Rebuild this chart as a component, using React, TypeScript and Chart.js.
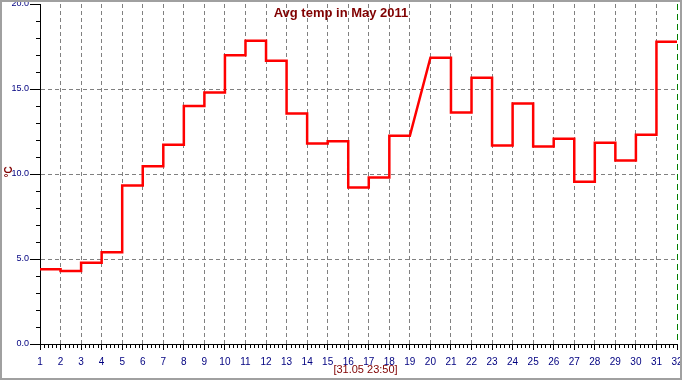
import React, { useEffect, useRef } from 'react';
import { Chart, registerables } from 'chart.js';

Chart.register(...registerables);

const TITLE = 'Avg temp in May 2011';
const Y_TITLE = '°C';
const FOOTER = '[31.05 23:50]';

const days = [1, 2, 3, 4, 5, 6, 7, 8, 9, 10, 11, 12, 13, 14, 15, 16, 17, 18, 19, 20, 21, 22, 23, 24, 25, 26, 27, 28, 29, 30, 31];
const temps: (number | null)[] = [
  4.39, 4.29, 4.78, 5.39, 9.33, 10.45, 11.72, 14.0, 14.8, 16.98,
  17.84, 16.66, 13.56, 11.8, 11.92, 9.21, 9.8, 12.25, null, 16.84,
  13.62, 15.66, 11.68, 14.14, 11.62, 12.08, 9.55, 11.84, 10.8, 12.31,
  17.78,
];
const xRange = [1, 32];
const yRange = [0, 20];
const yMajorStep = 5;
const yMinorStep = 1;
const xMinorPerDay = 5;

const FONT = '"Liberation Sans", Arial, sans-serif';
const NAVY = '#000080';
const MAROON = '#800000';
const GRID = '#808080';

export default function App() {
  const ref = useRef<HTMLCanvasElement | null>(null);

  useEffect(() => {
    if (!ref.current) return;
    const points: { x: number; y: number }[] = [];
    days.forEach((d, i) => {
      const v = temps[i];
      if (v == null) return;
      points.push({ x: d, y: v }, { x: d + 1, y: v });
    });

    const decor = {
      id: 'decor',
      afterDraw(chart: any) {
        const { ctx, chartArea: a, scales } = chart;
        const x = scales.x;
        const y = scales.y;
        ctx.save();
        ctx.strokeStyle = '#000';
        ctx.lineWidth = 1;
        ctx.setLineDash([]);
        ctx.beginPath();
        for (let v = yRange[0]; v <= yRange[1]; v += yMinorStep) {
          if (v % yMajorStep === 0) continue;
          const py = Math.round(y.getPixelForValue(v)) + 0.5;
          ctx.moveTo(a.left - 4, py);
          ctx.lineTo(a.left, py);
        }
        for (const d of days) {
          for (let k = 1; k < xMinorPerDay; k++) {
            const px = Math.round(x.getPixelForValue(d + k / xMinorPerDay)) + 0.5;
            ctx.moveTo(px, a.bottom);
            ctx.lineTo(px, a.bottom + 4);
          }
        }
        ctx.stroke();

        // title
        ctx.fillStyle = MAROON;
        ctx.font = `bold 13px ${FONT}`;
        ctx.textAlign = 'center';
        ctx.textBaseline = 'alphabetic';
        ctx.fillText(TITLE, 341, 17);

        // footer
        ctx.font = `11px ${FONT}`;
        ctx.textBaseline = 'middle';
        ctx.fillText(FOOTER, 365.5, 369.5);

        // y title
        ctx.save();
        ctx.translate(9, 172);
        ctx.rotate(-Math.PI / 2);
        ctx.font = `bold 10px ${FONT}`;
        ctx.textAlign = 'center';
        ctx.textBaseline = 'middle';
        ctx.fillText(Y_TITLE, 0, 0);
        ctx.restore();

        // frame
        ctx.fillStyle = '#a0a0a0';
        const W = chart.width;
        const H = chart.height;
        ctx.fillRect(0, 0, W, 2);
        ctx.fillRect(0, 0, 2, H);
        ctx.fillRect(W - 2, 0, 2, H);
        ctx.fillRect(0, H - 2, W, 2);
        ctx.restore();
      },
    };

    const chart = new Chart(ref.current, {
      type: 'line',
      data: {
        datasets: [
          {
            data: points,
            borderColor: '#ff0000',
            borderWidth: 2.5,
            pointRadius: 0,
            tension: 0,
            fill: false,
          },
        ],
      },
      options: {
        animation: false,
        responsive: false,
        devicePixelRatio: 1,
        layout: { padding: { left: 0, top: 4, right: 5, bottom: 0 } },
        plugins: { legend: { display: false }, tooltip: { enabled: false }, title: { display: false } },
        scales: {
          x: {
            type: 'linear',
            min: xRange[0],
            max: xRange[1],
            afterFit: (s: any) => {
              s.height = 36;
              s.paddingLeft = 0;
              s.paddingRight = 0;
            },
            ticks: {
              stepSize: 1,
              autoSkip: false,
              maxRotation: 0,
              color: NAVY,
              padding: 7,
              font: { family: FONT, size: 10, lineHeight: 1 },
            },
            grid: {
              color: (c: any) => {
                const v = c.tick && c.tick.value;
                if (v === xRange[0]) return 'rgba(0,0,0,0)';
                if (v === xRange[1]) return '#008000';
                return GRID;
              },
              tickColor: '#000',
              tickLength: 6,
              lineWidth: 1,
            },
            border: {
              color: '#000',
              width: 1,
              dash: (c: any) => (c.tick && c.tick.value === xRange[1] ? [6, 4] : [4, 3]),
            },
          },
          y: {
            type: 'linear',
            min: yRange[0],
            max: yRange[1],
            afterFit: (s: any) => {
              s.width = 40;
              s.paddingTop = 0;
              s.paddingBottom = 0;
            },
            ticks: {
              stepSize: yMajorStep,
              color: NAVY,
              padding: 1,
              font: { family: FONT, size: 9, lineHeight: 1 },
              callback: (v: any) => Number(v).toFixed(1),
            },
            grid: {
              color: (c: any) => {
                const v = c.tick && c.tick.value;
                return v > yRange[0] && v < yRange[1] ? GRID : 'rgba(0,0,0,0)';
              },
              tickColor: '#000',
              tickLength: 10,
              lineWidth: 1,
            },
            border: { color: '#000', width: 1, dash: [4, 3] },
          },
        },
      },
      plugins: [decor],
    });
    return () => chart.destroy();
  }, []);

  return (
    <div style={{ position: 'absolute', left: 0, top: 0, width: 682, height: 380, background: '#fff' }}>
      <canvas ref={ref} width={682} height={380} style={{ display: 'block' }} />
    </div>
  );
}
